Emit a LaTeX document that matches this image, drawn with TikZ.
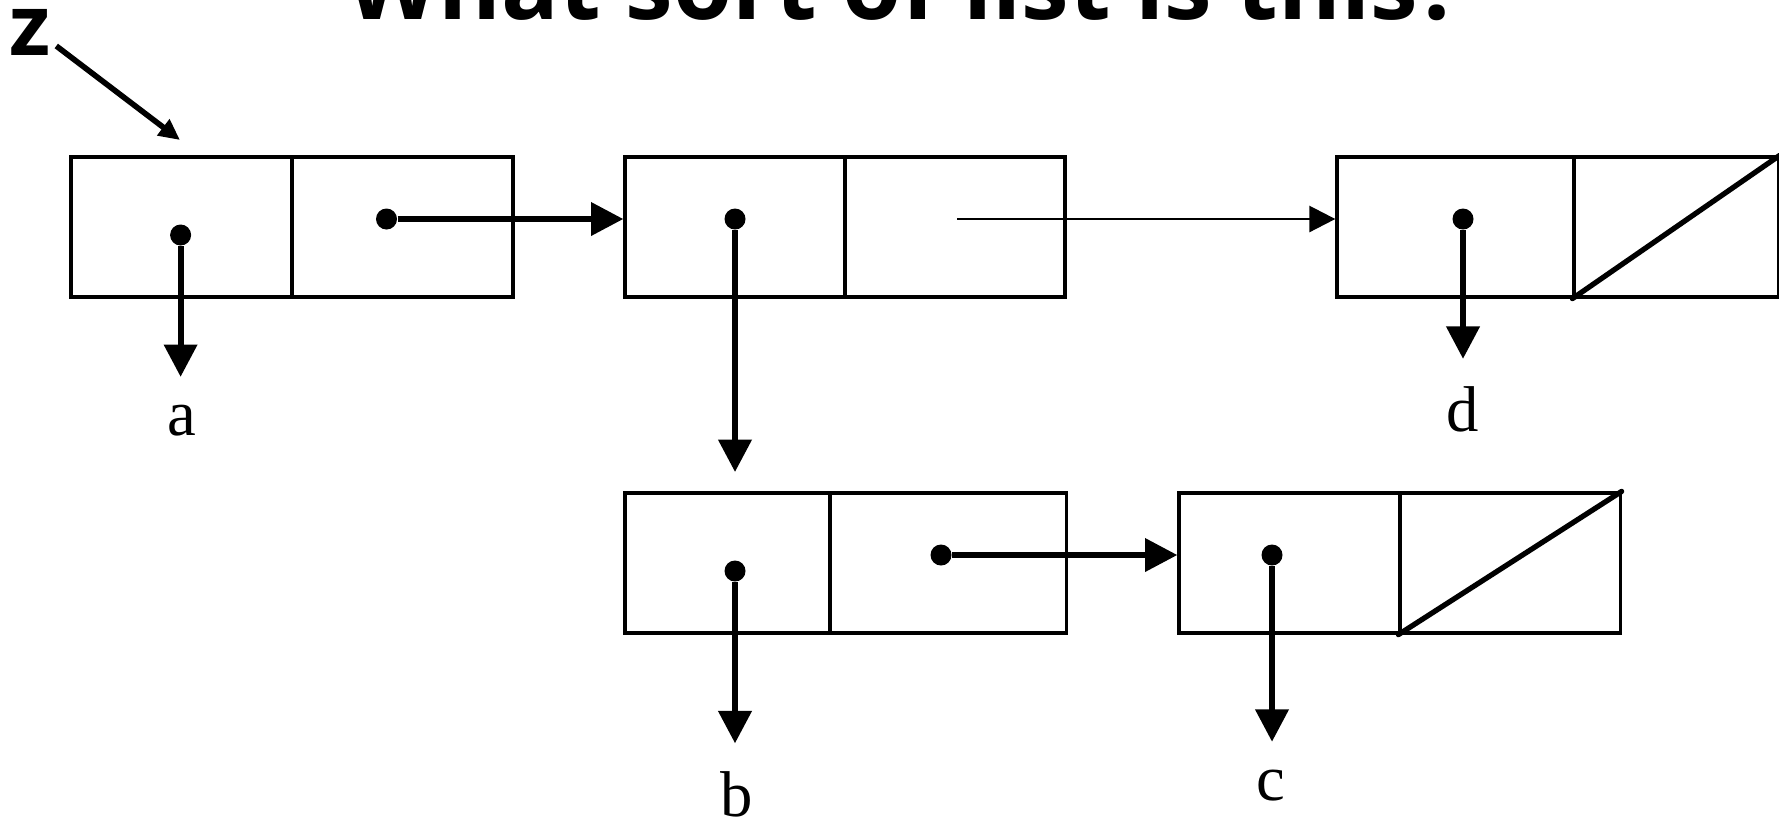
\documentclass[tikz,border=0pt]{standalone}
\usepackage{fontspec}
\setmainfont{Liberation Serif}
\newfontfamily\headfont{Open Sans}
\usetikzlibrary{arrows.meta}
\tikzset{
	cell/.style={draw, line width=0.9pt, minimum height=1.4cm, inner sep=0pt},
	dot/.style={circle, fill, inner sep=0pt, minimum size=0.21cm},
	ptr/.style={line width=1.7pt, -{Triangle[length=9.2pt,width=9.2pt]}},
	thinptr/.style={line width=0.75pt, -{Triangle[length=7.4pt,width=7.4pt]}},
	zptr/.style={line width=1.6pt, -{Triangle[length=6pt,width=5.5pt]}},
	nil/.style={line width=1.5pt, line cap=round},
	lbl/.style={anchor=base, inner xsep=0pt, inner ysep=7.7pt, font=\fontsize{18.4}{22}\selectfont},
}
\begin{document}
\begin{tikzpicture}[x=0.01cm,y=-0.01cm]
			\useasboundingbox (0,0) rectangle (1779,817);
			\node[anchor=base, font=\headfont\bfseries\fontsize{27.2}{30}\selectfont] (title) at (905,19) {What sort of list is this?};
			\node[anchor=base, inner sep=0pt, font=\headfont\bfseries\fontsize{24}{28}\selectfont] (z) at (30,55) {z};
			
			% cells
			\node[cell, minimum width=2.21cm] (n1car) at (181.5,227) {};
			\node[cell, minimum width=2.21cm] (n1cdr) at (402.5,227) {};
			\node[cell, minimum width=2.20cm] (n2car) at (735,227) {};
			\node[cell, minimum width=2.20cm] (n2cdr) at (955,227) {};
			\node[cell, minimum width=2.37cm] (n3car) at (1455.5,227) {};
			\node[cell, minimum width=2.04cm] (n3cdr) at (1676,227) {};
			\node[cell, minimum width=2.05cm] (n4car) at (727.5,563) {};
			\node[cell, minimum width=2.36cm] (n4cdr) at (948,563) {};
			\node[cell, minimum width=2.21cm] (n5car) at (1289.5,563) {};
			\node[cell, minimum width=2.20cm] (n5cdr) at (1510,563) {};
			
			% dots
			\node[dot] (d1a) at (180.6,235) {};
			\node[dot] (d1d) at (386.5,219) {};
			\node[dot] (d2a) at (735,219) {};
			\node[dot] (d3a) at (1463,219) {};
			\node[dot] (d4a) at (735,571) {};
			\node[dot] (d4d) at (941,555) {};
			\node[dot] (d5a) at (1272,555) {};
			\coordinate (s2d) at (957,219);
			\coordinate (t2a) at (735,472);
			\coordinate (ztip) at (180,140);
			
			% labels
			\node[lbl] (la) at (181.7,435) {a};
			\node[lbl] (lb) at (736.5,816) {b};
			\node[lbl] (lc) at (1271,800) {c};
			\node[lbl] (ld) at (1463,431.5) {d};
			
			\foreach \from/\to in {d1a/la,d3a/ld,d4a/lb,d5a/lc}
			\draw[ptr] (\from) -- (\from |- \to.north);
			\draw[ptr] (d1d) -- (d1d -| n2car.west);
			\draw[ptr] (d4d) -- (d4d -| n5car.west);
			\draw[ptr] (d2a) -- (t2a);
			\draw[thinptr] (s2d) -- (s2d -| n3car.west);
			\draw[zptr] ([shift={(5,14)}]z.east) -- (ztip);
			
			\draw[nil] (n3cdr.south west) -- (n3cdr.north east);
			\draw[nil] (n5cdr.south west) -- (n5cdr.north east);
\end{tikzpicture}
\end{document}
